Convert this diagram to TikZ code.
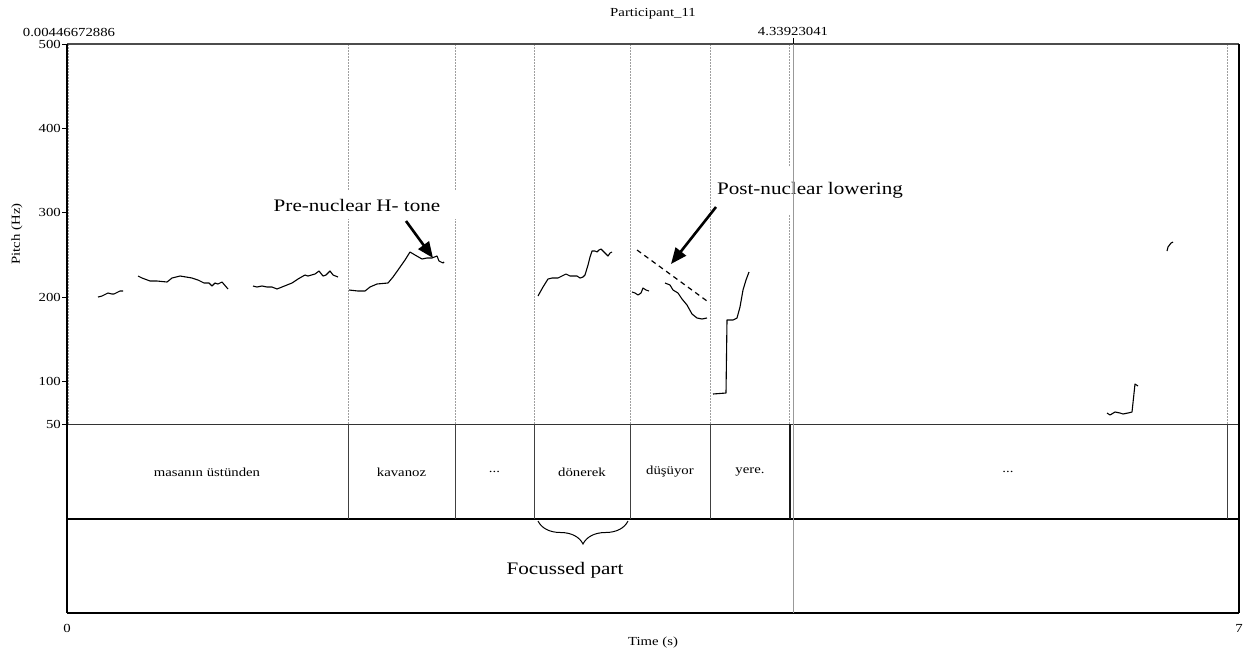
\documentclass[tikz,border=0pt]{standalone}
\usepackage{fontspec}
\setmainfont{Liberation Serif}[FakeStretch=1.2]
\usetikzlibrary{arrows.meta,decorations.pathreplacing}
\begin{document}
\begin{tikzpicture}[x=1pt,y=-1pt,
  small/.style={font=\fontsize{12.3}{14}\selectfont, inner sep=0pt},
  big/.style={font=\fontsize{17.6}{20}\selectfont},
  boundary/.style={gray!75, line width=0.8pt, dash pattern=on 2pt off 1pt},
  tierline/.style={black!75, line width=1pt},
  frameline/.style={black, line width=1.4pt},
  contour/.style={black, line width=1.1pt, line join=round},
  callout/.style={line width=2.6pt, -{Triangle[length=16pt,width=13pt]}},
  tickmark/.style={black, line width=0.9pt}]
\useasboundingbox (0,0) rectangle (1253,651);
\fill[white] (0,0) rectangle (1253,651);

% --- interval boundaries in the pitch area
\foreach \bx in {68,348,455,534,630,710,789,1227}
  \draw[boundary] (\bx,44) -- (\bx,424);

% --- annotation texts (white boxes cut the boundaries)
\node[big, fill=white, inner xsep=20pt, inner ysep=8pt] (pre) at (357,205) {Pre-nuclear H- tone};
\node[big, fill=white, inner xsep=6pt, inner ysep=16pt] (post) at (810,190) {\raisebox{3pt}{Post-nuclear lowering}};

% --- frame
\draw[black!70, line width=1.2pt] (67,44) -- (1239,44);
\draw[black!80, line width=1pt] (67,424) -- (1239,424);
\draw[frameline] (67,519) -- (1239,519);
\draw[frameline] (67,613) -- (1239,613);
\draw[frameline] (67,44) -- (67,613);
\draw[black, line width=1.1pt] (1239,44) -- (1239,613);

% --- cursor line at 4.33923041
\draw[gray!80, line width=0.6pt] (793,38) -- (793,613);
\draw[tickmark] (793,38) -- (793,44);

% --- tier boundaries
\foreach \bx in {348,455,534,630,710,1227}
  \draw[tierline] (\bx,424) -- (\bx,519);
\draw[black!90, line width=1.1pt] (790,424) -- (790,519);

% --- y axis ticks and labels
\foreach \yy/\lab in {44/500,128/400,212/300,297/200,381/100,424/50}{
  \draw[tickmark] (62,\yy) -- (67,\yy);
  \node[small, anchor=east] (y\lab) at (61,\yy) {\lab};
}
\node[small, rotate=90] (ylab) at (17,234) {Pitch (Hz)};

% --- top labels
\node[small] (title) at (653,14) {Participant\_11};
\node[small] (tstart) at (69,32) {0.00446672886};
\node[small] (tcur) at (793,31) {4.33923041};

% --- bottom labels
\node[small] (x0) at (67,628) {0};
\node[small] (x7) at (1239,628) {7};
\node[small] (xlab) at (653,643) {Time (s)};

% --- tier labels
\node[small] (w1) at (207,472) {masanın üstünden};
\node[small] (w2) at (401.5,472) {kavanoz};
\node[small] (w3) at (494.5,472) {...};
\node[small] (w4) at (582,472) {dönerek};
\node[small] (w5) at (670,472) {düşüyor};
\node[small] (w6) at (750,472) {yere.};
\node[small] (w7) at (1008,472) {...};

% --- pitch contours
\draw[contour] (98,297) -- (102,296) -- (106,294) -- (108,293) -- (112,294) -- (114,294) -- (118,292) -- (120,291) -- (123,291);
\draw[contour] (138,276) -- (142,278) -- (150,281) -- (157,281) -- (167,282) -- (172,278) -- (180,276) -- (192,278) -- (198,280) -- (204,283) -- (209,283) -- (212,286) -- (215,283) -- (218,284) -- (222,282) -- (228,289);
\draw[contour] (253,286) -- (257,287) -- (262,286) -- (267,287) -- (272,287) -- (277,289) -- (282,287) -- (287,285) -- (292,283) -- (298,279) -- (305,275) -- (308,276) -- (315,274) -- (319,271) -- (323,276) -- (326,275) -- (330,271) -- (333,275) -- (338,277);
\draw[contour] (349,290) -- (358,291) -- (365,291) -- (370,287) -- (377,284) -- (388,283) -- (393,277) -- (398,270) -- (405,260) -- (410,252) -- (415,255) -- (422,259) -- (427,258) -- (432,258) -- (437,256) -- (439,261) -- (443,263) -- (444,262);
\draw[contour] (538,296) -- (543,287) -- (548,279) -- (552,278) -- (558,278) -- (562,276) -- (566,274) -- (570,276) -- (577,276) -- (580,278) -- (583,277) -- (585,275) -- (588,265) -- (590,257) -- (592,251) -- (595,251) -- (597,252) -- (599,250) -- (601,249) -- (603,251) -- (606,254) -- (608,256) -- (610,253) -- (612,252);
\draw[contour] (632,292) -- (635,293) -- (638,295) -- (641,293) -- (643,288) -- (646,290) -- (649,291);
\draw[contour] (665,283) -- (670,285) -- (673,290) -- (678,293) -- (682,299) -- (687,305) -- (692,314) -- (697,318) -- (702,319) -- (707,318);
\draw[contour] (713,394) -- (726,393) -- (727,320) -- (733,320) -- (737,318) -- (740,307) -- (743,290) -- (746,280) -- (749,272);
\draw[contour] (1107,413) -- (1110,415) -- (1115,412) -- (1120,413) -- (1123,414) -- (1128,413) -- (1132,412) -- (1135,384) -- (1138,386);
\draw[contour] (1167,251) -- (1168,247) -- (1171,243) -- (1173,242);

% --- dashed trend line
\coordinate (trA) at (637,250);
\coordinate (trB) at (707,301);
\draw[black, line width=1.2pt, dash pattern=on 5pt off 4pt] (trA) -- (trB);

% --- arrows
\coordinate (preT) at (406,221);
\coordinate (preH) at (433,258);
\draw[callout] (preT) -- (preH);
\coordinate (postT) at (716,207);
\coordinate (postH) at (671,264);
\draw[callout] (postT) -- (postH);

% --- brace and label
\coordinate (brL) at (538,521);
\coordinate (brR) at (628,521);
\draw[black, line width=1pt, decorate, decoration={brace, mirror, amplitude=23pt}] (brL) -- (brR);
\node[big] (focus) at (565,570) {Focussed part};
\end{tikzpicture}
\end{document}
